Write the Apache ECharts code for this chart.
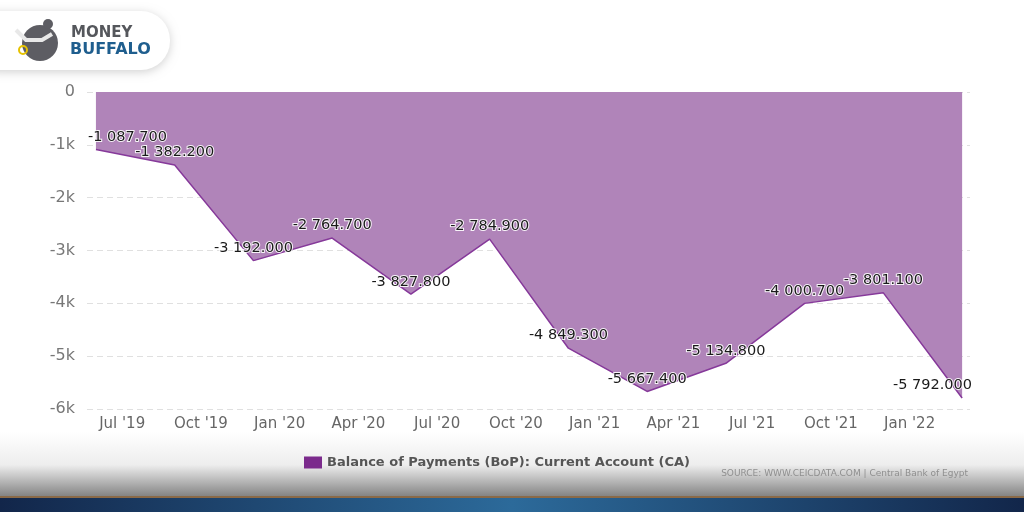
<!DOCTYPE html>
<html>
<head>
<meta charset="utf-8">
<script src="https://cdn.jsdelivr.net/npm/echarts@6/dist/echarts.min.js"></script>
<style>
  html, body { margin: 0; padding: 0; background: #fff; }
  #chart { width: 1024px; height: 512px; }
</style>
</head>
<body>
<div id="chart"></div>
<script>
// quarterly data, Central Bank of Egypt (USD mn)
const periods = ['2019-06', '2019-09', '2019-12', '2020-03', '2020-06', '2020-09',
  '2020-12', '2021-03', '2021-06', '2021-09', '2021-12', '2022-03'];
const currentAccount = [-1087.7, -1382.2, -3192.0, -2764.7, -3827.8, -2784.9,
  -4849.3, -5667.4, -5134.8, -4000.7, -3801.1, -5792.0];
const tickMonths = ['2019-07', '2019-10', '2020-01', '2020-04', '2020-07', '2020-10',
  '2021-01', '2021-04', '2021-07', '2021-10', '2022-01'];
const tickLabels = ["Jul '19", "Oct '19", "Jan '20", "Apr '20", "Jul '20", "Oct '20",
  "Jan '21", "Apr '21", "Jul '21", "Oct '21", "Jan '22"];

// months counted from Jan 2019
function monthIndex(s) {
  const p = s.split('-');
  return (+p[0] - 2019) * 12 + (+p[1] - 1);
}

function fmt(v) {
  const sign = v < 0 ? '-' : '';
  const parts = Math.abs(v).toFixed(3).split('.');
  return sign + parts[0].replace(/\B(?=(\d{3})+(?!\d))/g, ' ') + '.' + parts[1];
}

const labelMap = {};
tickMonths.forEach((m, i) => { labelMap[monthIndex(m)] = tickLabels[i]; });

const GRID_LEFT = 87, GRID_RIGHT = 54;

let chart = echarts.init(document.getElementById('chart'));
let option = {
  animation: false,
  textStyle: { fontFamily: 'DejaVu Sans' },
  grid: { left: GRID_LEFT, right: GRID_RIGHT, top: 92, bottom: 103 },
  graphic: [
    {
      type: 'rect', z: -10, silent: true,
      shape: { x: 0, y: 432, width: 1024, height: 66 },
      style: {
        fill: new echarts.graphic.LinearGradient(0, 0, 0, 1, [
          { offset: 0, color: 'rgba(255,255,255,1)' },
          { offset: 0.5, color: '#ededed' },
          { offset: 1, color: '#7e7e7e' }
        ])
      }
    },
    {
      type: 'rect', z: -10, silent: true,
      shape: { x: 0, y: 496, width: 1024, height: 2 },
      style: { fill: '#8a6a48' }
    },
    {
      type: 'rect', z: -10, silent: true,
      shape: { x: 0, y: 498, width: 1024, height: 14 },
      style: {
        fill: new echarts.graphic.LinearGradient(0, 0, 1, 0, [
          { offset: 0, color: '#12264a' },
          { offset: 0.5, color: '#2c6a9a' },
          { offset: 1, color: '#12264a' }
        ])
      }
    },
    // logo pill
    {
      type: 'rect', z: 10, silent: true,
      shape: { x: -30, y: 11, width: 200, height: 59, r: 29 },
      style: { fill: '#fff', shadowBlur: 10, shadowColor: 'rgba(0,0,0,0.18)', shadowOffsetY: 2 }
    },
    {
      type: 'circle', z: 11, silent: true,
      shape: { cx: 40, cy: 43, r: 18 },
      style: { fill: '#5d5d63' }
    },
    {
      type: 'circle', z: 11, silent: true,
      shape: { cx: 48, cy: 24, r: 5 },
      style: { fill: '#5d5d63' }
    },
    {
      type: 'polyline', z: 12, silent: true,
      shape: { points: [[16, 30], [26, 40], [42, 40], [52, 34]] },
      style: { stroke: '#e8e8e8', lineWidth: 4, fill: null }
    },
    {
      type: 'circle', z: 12, silent: true,
      shape: { cx: 23, cy: 50, r: 4 },
      style: { fill: null, stroke: '#e6c200', lineWidth: 2 }
    },
    {
      type: 'text', z: 12, silent: true,
      style: { x: 71, y: 26, text: 'MONEY', fill: '#55575c', font: 'bold 15px "DejaVu Sans"' }
    },
    {
      type: 'text', z: 12, silent: true,
      style: { x: 70, y: 42, text: 'BUFFALO', fill: '#1f5e8e', font: 'bold 16px "DejaVu Sans"' }
    },
    {
      type: 'text', z: 12, silent: true,
      style: {
        x: 968, y: 469, text: 'SOURCE: WWW.CEICDATA.COM | Central Bank of Egypt',
        fill: '#8f8f8f', font: '9px "DejaVu Sans"', align: 'right'
      }
    }
  ],
  legend: {
    left: 299, top: 451,
    icon: 'rect', itemWidth: 18, itemHeight: 12, itemGap: 6,
    textStyle: { color: '#555', fontSize: 13, fontWeight: 'bold', fontFamily: 'DejaVu Sans' }
  },
  xAxis: {
    type: 'value',
    min: 4.66,
    max: 38.3,
    axisLine: { show: false },
    axisTick: { show: false },
    splitLine: { show: false },
    axisLabel: {
      customValues: tickMonths.map(monthIndex),
      formatter: v => labelMap[Math.round(v)] || '',
      color: '#666',
      fontSize: 15,
      margin: 8
    }
  },
  yAxis: {
    type: 'value',
    min: -6000,
    max: 0,
    interval: 1000,
    axisLine: { show: false },
    axisTick: { show: false },
    splitLine: { lineStyle: { color: '#e0e0e0', type: [6, 4] } },
    axisLabel: {
      formatter: v => v === 0 ? '0' : (v / 1000) + 'k',
      color: '#777',
      fontSize: 16,
      margin: 12
    }
  },
  series: [
    {
      name: 'Balance of Payments (BoP): Current Account (CA)',
      type: 'line',
      symbol: 'circle',
      symbolSize: 0,
      showAllSymbol: true,
      color: '#7b2a8c',
      lineStyle: { color: '#86399a', width: 1.5 },
      areaStyle: { color: '#b084b9', opacity: 1 },
      data: periods.map((p, i) => [monthIndex(p), currentAccount[i]]),
      label: {
        show: true,
        position: 'top',
        distance: 5,
        formatter: p => fmt(p.value[1]),
        color: '#1a1a1a',
        fontSize: 14.5,
        textBorderColor: 'rgba(255,255,255,0.9)',
        textBorderWidth: 2
      }
    }
  ]
};
option.series[0].labelLayout = function (params) {
  const r = params.labelRect;
  if (r.x < GRID_LEFT) return { dx: GRID_LEFT - r.x };
  if (r.x + r.width > 1024 - GRID_RIGHT + 3) return { dx: 1024 - GRID_RIGHT + 3 - r.x - r.width };
  return {};
};
chart.setOption(option);
</script>
</body>
</html>
